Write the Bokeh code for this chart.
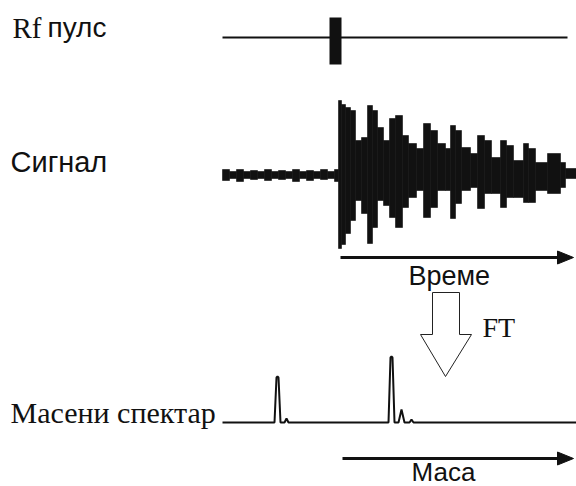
from bokeh.plotting import figure
from bokeh.models import Range1d, ColumnDataSource
from bokeh.core.properties import value
from bokeh.embed import file_html
from bokeh.resources import INLINE

# ---- data (page pixel coordinates) ----
# Rf pulse
rf_line_x = [222, 567]
rf_line_y = [37, 37]
rf_pulse = dict(left=[329], right=[341], top=[17], bottom=[64])

# Signal (transient) envelope: segment edges, top and bottom of each segment
sig_edges = [222, 229, 236, 243, 250, 257, 264, 271, 278, 285, 292, 299, 306, 313, 320, 327, 334, 338,
             341, 345, 350, 355, 361, 367, 372, 377, 383, 389, 395, 402, 408, 416, 423, 430, 437, 445,
             450, 455, 461, 470, 477, 484, 491, 500, 506, 513, 523, 528, 535, 547, 560, 565, 576]
sig_top = [169, 171, 169, 171, 170, 171, 169, 171, 170, 171, 169, 171, 170, 171, 169, 171, 169,
           100, 104, 107, 110, 140, 137, 105, 110, 127, 140, 118, 115, 135, 143, 148, 123, 130, 143, 148,
           125, 130, 147, 153, 135, 140, 157, 140, 145, 160, 143, 148, 162, 153, 162, 168]
sig_bottom = [180, 178, 181, 178, 179, 178, 180, 178, 179, 178, 181, 178, 180, 178, 179, 178, 181,
              248, 244, 233, 220, 200, 213, 243, 227, 200, 205, 217, 227, 207, 197, 190, 217, 207, 190, 190,
              218, 203, 190, 187, 208, 193, 193, 207, 197, 197, 202, 202, 190, 193, 187, 178]

# Mass spectrum trace
spec_x = [222, 274, 276, 277, 278, 280, 284, 286, 288, 388, 390, 391, 392, 394, 398, 401, 404, 409, 411, 413, 576]
spec_y = [422, 422, 377, 376, 377, 422, 422, 418, 422, 422, 357, 356, 357, 422, 422, 409, 422, 422, 419, 422, 422]

# FT hollow arrow outline
ft_x = [432, 459, 459, 471, 445, 420, 432]
ft_y = [292, 292, 334, 334, 376, 334, 334]

# axis arrows
time_arrow = dict(x0=340, x1=559, y=257)
mass_arrow = dict(x0=342, x1=559, y=458)

# label anchor = top-left of the text line box
labels_serif = ["Rf", "FT", "Масени спектар"]
labels_serif_x = [12, 482, 10]
labels_serif_y = [27, 327, 412]
labels_serif_size = ["29px", "28px", "30px"]

labels_sans = ["пулс", "Сигнал", "Време", "Маса"]
labels_sans_x = [47, 10, 408, 411]
labels_sans_y = [27, 161, 275, 471]
labels_sans_size = ["28px", "29px", "27px", "26px"]

W, H = 576, 486

# ---- figure ----
p = figure(width=W, height=H, output_backend="svg", toolbar_location=None,
           x_range=Range1d(0, W), y_range=Range1d(H, 0),
           x_axis_type=None, y_axis_type=None, min_border=0)
p.grid.visible = False
p.outline_line_color = None
p.background_fill_color = "white"
p.border_fill_color = "white"

ink = "#111111"

# Rf pulse
p.line(rf_line_x, rf_line_y, line_color=ink, line_width=2)
p.quad(line_color=None, fill_color=ink, **rf_pulse)

# Signal
p.quad(left=sig_edges[:-1], right=sig_edges[1:], top=sig_top, bottom=sig_bottom,
       fill_color=ink, line_color=ink, line_width=0.6)

# Axis arrows (Време / Маса)
for a in (time_arrow, mass_arrow):
    p.line([a["x0"], a["x1"]], [a["y"], a["y"]], line_color=ink, line_width=3)
    p.patch([a["x1"] - 2, a["x1"] + 14, a["x1"] - 2], [a["y"] - 6.5, a["y"], a["y"] + 6.5],
            fill_color=ink, line_color=ink)

# FT arrow
p.patch(ft_x, ft_y, fill_color="white", line_color="#222222", line_width=1)

# Mass spectrum
p.line(spec_x, spec_y, line_color=ink, line_width=2)

# Labels
src_serif = ColumnDataSource(dict(x=labels_serif_x, y=labels_serif_y, t=labels_serif, s=labels_serif_size))
p.text(x="x", y="y", text="t", text_font_size="s", source=src_serif,
       text_font=value("Liberation Serif"), text_color=ink,
       text_baseline="alphabetic", text_align="left")
src_sans = ColumnDataSource(dict(x=labels_sans_x, y=labels_sans_y, t=labels_sans, s=labels_sans_size))
p.text(x="x", y="y", text="t", text_font_size="s", source=src_sans,
       text_font=value("Liberation Sans"), text_color=ink,
       text_baseline="alphabetic", text_align="left")

open("out.html", "w").write(file_html(p, INLINE))
